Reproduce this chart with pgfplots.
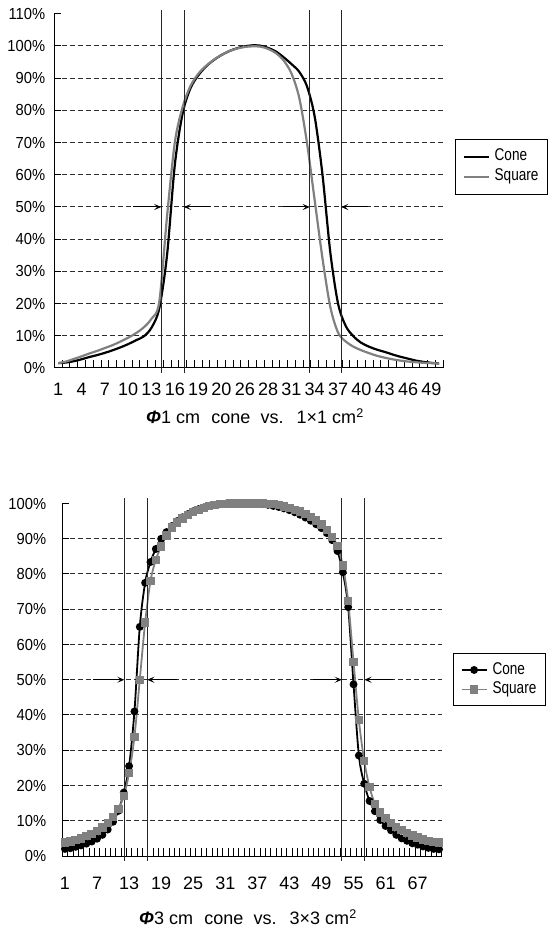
\documentclass[border=0pt]{standalone}
\usepackage{fontspec}
\setmainfont{Liberation Sans}
\newfontfamily\narrowfont{Liberation Sans}[FakeStretch=0.8]
\newfontfamily\ylabfont{Liberation Sans}[FakeStretch=0.92]
\usepackage{pgfplots}
\usepackage{pgfplotstable}
\pgfplotsset{compat=1.18}
\usetikzlibrary{arrows.meta}

\definecolor{sqgray}{RGB}{128,128,128}
\definecolor{gridgray}{RGB}{45,45,45}

% phi 1 cm cone vs 1x1 field
\pgfplotstableread{
x cone square
1 1.5 1.5
2 1.7 2.0
3 2.1 2.8
4 2.7 3.6
5 3.4 4.5
6 4.0 5.3
7 4.7 6.2
8 5.5 7.1
9 6.4 8.2
10 7.4 9.4
11 8.6 10.8
12 9.8 12.6
13 12.5 15.3
14 18.5 20.5
15 35 47
16 63 70
17 79 81
18 86.8 87.5
19 90.8 91.3
20 93.6 93.8
21 95.6 95.7
22 97.2 97.2
23 98.4 98.4
24 99.3 99.2
25 99.9 99.7
26 100.2 99.9
27 100.1 99.8
28 99.4 99.1
29 98.3 97.8
30 96.5 95.5
31 94.4 91.5
32 92 84
33 87.5 70
34 78 52
35 60 34
36 36 19
37 20 11
38 13 8.2
39 9.8 6.6
40 7.8 5.5
41 6.6 4.6
42 5.7 3.8
43 5.0 3.2
44 4.2 2.7
45 3.5 2.3
46 2.9 2.0
47 2.3 1.8
48 1.9 1.6
49 1.6 1.5
50 1.4 1.4
}\topdata

% phi 3 cm cone vs 3x3 field
\pgfplotstableread{
x cone square
1 2.0 3.8
2 2.2 4.1
3 2.6 4.5
4 3.0 5.0
5 3.5 5.6
6 4.1 6.3
7 4.9 7.1
8 6.0 8.1
9 7.5 9.4
10 9.7 11.0
11 12.8 13.3
12 18 17.0
13 25.5 23.5
14 41 33.8
15 65 50
16 77.5 66.2
17 83.4 78
18 87.1 84
19 90 87.8
20 91.9 90.9
21 93.6 93.2
22 95 94.6
23 96.1 95.8
24 97 96.8
25 97.8 97.6
26 98.4 98.2
27 98.9 98.8
28 99.3 99.3
29 99.6 99.6
30 99.8 99.8
31 99.9 99.9
32 100 100
33 100 100
34 100 100
35 100 100
36 100 100
37 99.9 100
38 99.8 100
39 99.6 99.9
40 99.3 99.8
41 99.0 99.5
42 98.6 99.1
43 98.1 98.7
44 97.5 98.2
45 96.8 97.7
46 96.0 97.0
47 95.1 96.2
48 94.1 95.2
49 93.0 94.0
50 91.6 92.5
51 89.6 90.5
52 86.5 87.9
53 80.5 82.4
54 70.6 72.3
55 48.7 55
56 28.5 38.5
57 20.5 27
58 15.6 19.5
59 12.7 14.8
60 10.2 12.3
61 8.5 10.7
62 7.3 9.3
63 6.0 8.2
64 5.0 7.3
65 4.3 6.5
66 3.6 5.8
67 3.2 5.2
68 2.7 4.7
69 2.3 4.3
70 2.0 4.0
71 1.9 3.8
}\botdata

\tikzset{
  fwhm/.style={black!85, line width=0.9pt},
  harrow/.style={-{Stealth[length=7pt, width=6pt, inset=3pt]}, black, line width=1pt},
}

\pgfplotsset{
  profile/.style={
    scale only axis,
    clip=false,
    axis x line=bottom, axis y line=left,
    axis line style={-, line width=1pt, black},
    ymin=0,
    tick align=inside,
    major tick length=7pt,
    minor tick length=8pt,
    major x tick style={draw=none},
    minor x tick style={black, line width=0.8pt},
    y tick style={black, line width=1pt},
    ymajorgrids,
    grid style={gridgray, line width=1pt, dash pattern=on 5pt off 3pt},
    extra y tick style={grid=none},
    yticklabel style={font=\ylabfont\fontsize{16}{18}\selectfont, anchor=east, inner sep=0pt},
    xticklabel style={font=\fontsize{18}{20}\selectfont, anchor=north, inner sep=0pt},
    legend style={anchor=north west, draw=black, line width=0.8pt,
      font=\narrowfont\fontsize{17}{19}\selectfont, inner xsep=7pt, inner ysep=7.5pt,
      row sep=0.5pt, cells={anchor=west},
      nodes={inner sep=2pt, text height=12pt, text depth=3.5pt},
      /tikz/every odd column/.style={column sep=3pt}},
    legend image code/.code={%
      \draw[mark repeat=2, mark phase=2, #1] plot coordinates {(0pt,0pt) (12.5pt,0pt) (25pt,0pt)};},
  },
}

\begin{document}
\begin{tikzpicture}
\useasboundingbox (0,0) rectangle (550pt,932pt);

% upper chart
\begin{axis}[profile,
  at={(54.3pt,564pt)}, anchor=south west,
  width=388.7pt, height=354.2pt,
  xmin=0.5, xmax=50.5, ymax=110,
  xtick={1,4,...,49},
  xticklabels={1,4,7,10,13,16,19,20,26,28,31,34,37,40,43,46,49},
  minor xtick={0.5,1.5,...,50.5},
  xticklabel style={yshift=-14.5pt},
  ytick={0,10,...,100},
  yticklabels={0\%,10\%,20\%,30\%,40\%,50\%,60\%,70\%,80\%,90\%,100\%},
  extra y ticks={110}, extra y tick labels={110\%},
  yticklabel style={xshift=-9pt},
  legend style={at={(1.031,0.6465)}},
]
  \addplot[black, line width=2.2pt, smooth, tension=0.5] table[x=x, y=cone] {\topdata};
  \addlegendentry{Cone}
  \addplot[sqgray, line width=2.2pt, smooth, tension=0.5] table[x=x, y=square] {\topdata};
  \addlegendentry{Square}

  \draw[fwhm] (axis cs:14.25,-1.5) -- (axis cs:14.25,111.2);
  \draw[fwhm] (axis cs:17.18,-1.5) -- (axis cs:17.18,111.2);
  \draw[fwhm] (axis cs:33.36,-1.5) -- (axis cs:33.36,111.2);
  \draw[fwhm] (axis cs:37.41,-1.5) -- (axis cs:37.41,111.2);
  \draw[harrow] (axis cs:10.64,50) -- (axis cs:14.25,50);
  \draw[harrow] (axis cs:20.56,50) -- (axis cs:17.18,50);
  \draw[harrow] (axis cs:29.97,50) -- (axis cs:33.36,50);
  \draw[harrow] (axis cs:40.8,50) -- (axis cs:37.41,50);
\end{axis}

\node[font=\fontsize{18}{20}\selectfont] at (255pt,516pt)
  {{\bfseries\itshape Φ}1 cm\hspace{0.35em} cone\hspace{0.3em} vs.\hspace{0.35em} 1×1 cm\textsuperscript{2}};

% lower chart
\begin{axis}[profile,
  at={(62.3pt,76pt)}, anchor=south west,
  width=379.4pt, height=352.5pt,
  xmin=0.5, xmax=71.5, ymax=100,
  xtick={1,7,...,67},
  xticklabels={1,7,13,19,25,31,37,43,49,55,61,67},
  minor xtick={0.5,1.5,...,71.5},
  xticklabel style={yshift=-20.5pt},
  ytick={0,10,...,90},
  yticklabels={0\%,10\%,20\%,30\%,40\%,50\%,60\%,70\%,80\%,90\%},
  extra y ticks={100}, extra y tick labels={100\%},
  yticklabel style={xshift=-16pt},
  legend style={at={(1.0306,0.575)}, inner ysep=6.5pt, row sep=0pt},
]
  \addplot[black, line width=1.8pt, smooth, tension=0.5, mark=*, mark size=3pt] table[x=x, y=cone] {\botdata};
  \addlegendentry{Cone}
  \addplot[sqgray, line width=1.8pt, smooth, tension=0.5, mark=square*, mark size=3.3pt] table[x=x, y=square] {\botdata};
  \addlegendentry{Square}

  \draw[fwhm] (axis cs:12.1,-1.4) -- (axis cs:12.1,101.6);
  \draw[fwhm] (axis cs:16.4,-1.4) -- (axis cs:16.4,101.6);
  \draw[fwhm] (axis cs:52.8,-1.4) -- (axis cs:52.8,101.6);
  \draw[fwhm] (axis cs:57.05,-1.4) -- (axis cs:57.05,101.6);
  \draw[harrow] (axis cs:6.3,50) -- (axis cs:12.1,50);
  \draw[harrow] (axis cs:21.9,50) -- (axis cs:16.4,50);
  \draw[harrow] (axis cs:47.5,50) -- (axis cs:52.8,50);
  \draw[harrow] (axis cs:62.4,50) -- (axis cs:57.05,50);
\end{axis}

\node[font=\fontsize{18}{20}\selectfont] at (248pt,15pt)
  {{\bfseries\itshape Φ}3 cm\hspace{0.35em} cone\hspace{0.3em} vs.\hspace{0.35em} 3×3 cm\textsuperscript{2}};
\end{tikzpicture}
\end{document}
